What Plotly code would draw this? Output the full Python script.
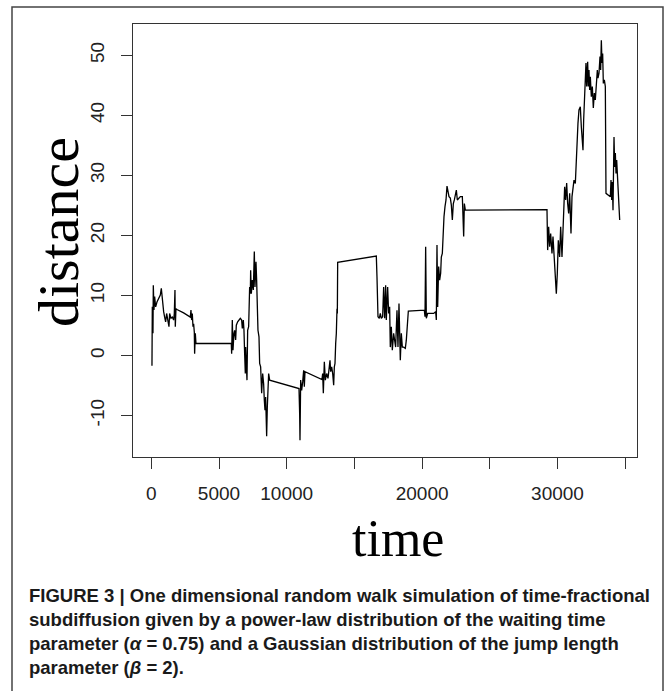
import plotly.graph_objects as go

# ---- data ----
time = [0, 49, 74, 123, 148, 197, 246, 320, 418, 542, 665, 739, 812, 911, 985, 1059, 1132, 1231, 1305, 1354,
        1452, 1551, 1649, 1698, 1748, 1772, 1821, 1895, 2387, 2880, 2929, 2978, 3028, 3077, 3126, 3176, 3200,
        3250, 3299, 5909, 5934, 5983, 6032, 6106, 6155, 6229, 6278, 6377, 6475, 6574, 6672, 6721, 6795, 6844,
        6894, 6943, 6968, 7017, 7066, 7116, 7189, 7238, 7263, 7312, 7337, 7386, 7460, 7534, 7608, 7657, 7731,
        7780, 7829, 7879, 7953, 8002, 8076, 8150, 8224, 8297, 8347, 8396, 8445, 8519, 8568, 8617, 8667, 8741,
        10908, 10957, 10982, 11031, 11105, 11179, 11253, 11302, 11351, 12607, 12656, 12705, 12779, 12853,
        12951, 13050, 13124, 13198, 13247, 13321, 13395, 13469, 13518, 13567, 13617, 13666, 13715, 13740,
        13764, 16619, 16668, 16717, 16742, 16840, 16914, 16988, 17086, 17160, 17234, 17308, 17357, 17455,
        17529, 17603, 17652, 17726, 17800, 17898, 17972, 18046, 18145, 18219, 18293, 18342, 18391, 18465,
        18539, 18638, 18761, 18835, 18884, 18933, 18983, 20165, 20214, 20263, 20312, 20411, 20608, 20854,
        21002, 21051, 21100, 21150, 21223, 21297, 21371, 21420, 21494, 21543, 21617, 21691, 21765, 21839,
        21913, 21987, 22085, 22159, 22233, 22307, 22381, 22455, 22529, 22602, 22701, 22824, 22972, 23021,
        23070, 23120, 23194, 29224, 29273, 29347, 29421, 29495, 29593, 29667, 29766, 29840, 29913, 29987,
        30061, 30160, 30234, 30332, 30406, 30455, 30529, 30603, 30677, 30751, 30825, 30899, 30997, 31071,
        31145, 31219, 31317, 31391, 31440, 31513, 31587, 31686, 31760, 31834, 31883, 31932, 32006, 32055,
        32104, 32154, 32228, 32277, 32326, 32375, 32425, 32499, 32573, 32646, 32720, 32794, 32868, 32942,
        32991, 33065, 33139, 33188, 33238, 33287, 33336, 33385, 33459, 33533, 33582, 33779, 33902, 33952,
        34001, 34050, 34100, 34149, 34174, 34223, 34272, 34322, 34371, 34445, 34494, 34543, 34593]

distance = [-1.6, -1.6, 8.1, 3.7, 11.7, 7.6, 9.8, 8.1, 8.9, 9.5, 10.05, 11.2, 9.2, 7.3, 6.4, 5.6, 7.0, 5.9, 4.8, 7.0,
            6.2, 6.4, 5.9, 7.0, 10.9, 4.8, 7.8, 7.65, 7.1, 6.4, 7.55, 5.9, 7.0, 4.8, 5.3, 3.9, 0.3,
            3.7, 2.0, 2.0, 0.3, 5.9, 0.9, 3.7, 4.2, 2.6, 5.05, 5.6, 5.9, 6.2, 5.9, 4.5, 5.9, 4.2,
            0.3, -3.0, 1.4, -1.9, -4.1, 4.2, 4.8, 9.2, 11.4, 10.3, 14.2, 10.3, 12.55, 10.9, 17.3, 11.4, 15.6,
            12.55, 9.2, 4.2, 3.1, -1.3, -1.9, -6.3, -3.0, -4.7, -7.45, -9.1, -6.9, -13.45, -8.6, -6.3, -3.0, -4.1,
            -5.5, -9.7, -14.1, -4.1, -5.8, -4.4, -2.45, -5.2, -2.7, -4.0, -3.0, -6.3, -1.05, -4.1,
            -3.0, -3.8, -1.9, -0.8, -2.7, -1.9, -3.0, -4.95, -1.9, -1.3, 2.0, 3.7, 7.8, 7.0,
            15.5, 16.55, 13.1, 9.2, 6.45, 6.2, 7.0, 6.2, 6.45, 11.4, 6.2, 11.7, 5.9, 11.4,
            7.0, 8.1, 1.4, 4.8, 0.9, 3.7, 2.55, 1.4, 7.55, 1.4, 8.65, 0.3, -0.8, 3.7,
            1.4, 1.4, 1.2, 2.55, 4.8, 6.45, 7.4, 7.55, 6.45, 18.1, 6.2, 7.0, 7.0, 7.0,
            7.3, 5.9, 18.4, 8.1, 14.8, 12.55, 13.7, 16.4, 17.0, 20.3, 23.1, 24.8, 25.9, 28.2,
            27.55, 26.45, 26.2, 25.05, 22.55, 25.3, 25.9, 27.0, 27.55, 25.9, 26.2, 26.45, 26.45, 23.65,
            19.8, 25.3, 24.2, 24.3, 17.55, 21.45, 18.1, 20.3, 17.0, 19.8, 15.9, 12.55, 10.3, 13.7,
            19.2, 16.4, 21.45, 16.4, 22.0, 24.2, 28.1, 25.9, 28.7, 25.3, 23.65, 27.0, 20.3, 26.45,
            28.1, 29.2, 28.65, 33.1, 37.55, 38.7, 40.9, 41.4, 38.1, 35.3, 34.2, 39.2, 42.55, 44.8,
            48.7, 44.8, 48.9, 44.8, 47.55, 44.2, 46.4, 43.1, 44.8, 41.2, 43.7, 42.55, 45.9, 47.55,
            46.2, 47.0, 49.8, 47.55, 52.5, 48.7, 50.3, 45.3, 45.9, 44.8, 27.0, 26.7, 26.45, 29.2,
            25.9, 28.9, 24.2, 32.55, 36.4, 31.4, 33.7, 30.3, 32.55, 29.2, 25.9, 24.8, 22.55]

x_ticks = [0, 5000, 10000, 15000, 20000, 25000, 30000, 35000]
x_tick_labels = ["0", "5000", "10000", "", "20000", "", "30000", ""]
y_ticks = [-10, 0, 10, 20, 30, 40, 50]
y_tick_labels = ["-10", "0", "10", "20", "30", "40", "50"]
x_range = [-1352, 35872]
y_range = [-16.9, 55.2]

caption = ("<b>FIGURE 3 | One dimensional random walk simulation of time-fractional<br>"
           "subdiffusion given by a power-law distribution of the waiting time<br>"
           "parameter (<i>α</i> = 0.75) and a Gaussian distribution of the jump length<br>"
           "parameter (<i>β</i> = 2).</b>")

# ---- layout geometry (pixels) ----
W, H = 668, 691
L, R, T, B = 133, 637, 24, 457
pw, ph = R - L, B - T


def px(x):
    return (x - L) / pw


def py(y):
    return (B - y) / ph


fig = go.Figure()
fig.add_trace(go.Scatter(x=time, y=distance, mode="lines",
                         line=dict(color="black", width=1.3), hoverinfo="skip",
                         showlegend=False))

tickfont = dict(family="Liberation Sans, Arial, sans-serif", size=19, color="#222")
fig.update_xaxes(range=x_range, tickmode="array", tickvals=x_ticks, ticktext=x_tick_labels,
                 ticks="outside", ticklen=11, tickwidth=1.3, tickcolor="#333",
                 showline=True, mirror=True, linecolor="#333", linewidth=1.3,
                 showgrid=False, zeroline=False, tickfont=tickfont, ticklabelstandoff=8)
fig.update_yaxes(range=y_range, tickmode="array", tickvals=y_ticks, ticktext=y_tick_labels,
                 ticks="outside", ticklen=11, tickwidth=1.3, tickcolor="#333",
                 showline=True, mirror=True, linecolor="#333", linewidth=1.3,
                 showgrid=False, zeroline=False, tickfont=tickfont, tickangle=-90,
                 ticklabelstandoff=9)

serif = "Liberation Serif, Times New Roman, serif"
fig.add_annotation(text="distance", xref="paper", yref="paper", x=px(58), y=py(232),
                   xanchor="center", yanchor="middle", textangle=-90, showarrow=False,
                   font=dict(family=serif, size=58, color="black"))
fig.add_annotation(text="time", xref="paper", yref="paper", x=px(398), y=py(538),
                   xanchor="center", yanchor="middle", showarrow=False,
                   font=dict(family=serif, size=52, color="black"))
fig.add_annotation(text=caption, xref="paper", yref="paper", x=px(27), y=py(583),
                   xanchor="left", yanchor="top", align="left", showarrow=False,
                   font=dict(family="Liberation Sans, Arial, sans-serif", size=18.5, color="#1a1a1a"))

fig.add_shape(type="rect", xref="paper", yref="paper", x0=px(12), x1=px(663), y0=py(710), y1=py(7),
              line=dict(color="#444", width=1.5), fillcolor="rgba(0,0,0,0)", layer="below")

fig.update_layout(width=W, height=H, margin=dict(l=L, r=W - R, t=T, b=H - B, autoexpand=False),
                  paper_bgcolor="white", plot_bgcolor="white", showlegend=False)

fig.write_html("out.html")
